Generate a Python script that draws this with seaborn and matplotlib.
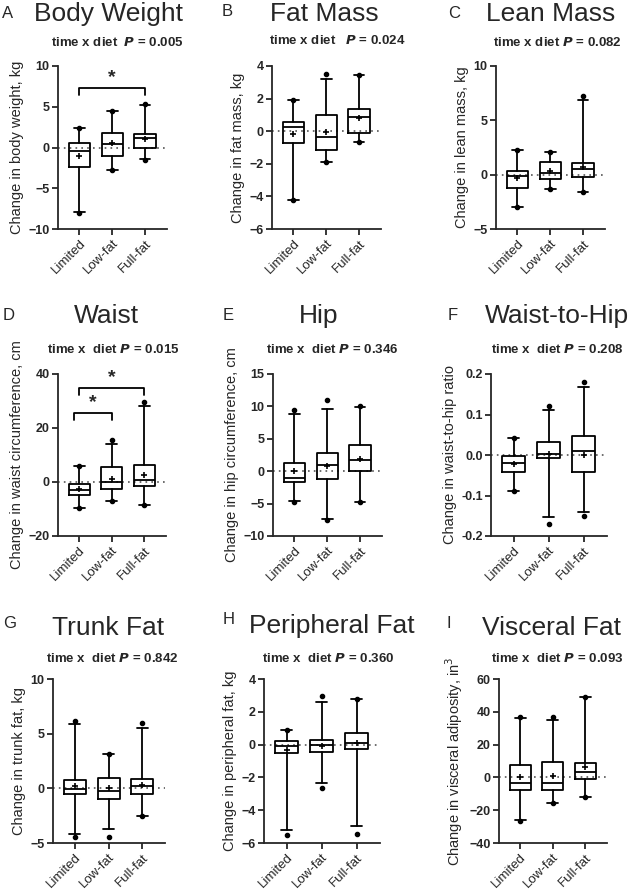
import matplotlib
matplotlib.use("Agg")
import matplotlib.pyplot as plt
import seaborn as sns

groups = ["Limited", "Low-fat", "Full-fat"]

# each row: [whisker low, Q1, median, Q3, whisker high, mean] for Limited, Low-fat, Full-fat
body_weight = [[-7.9, -2.45, -0.4, 0.6, 2.45, -1.0],
               [-2.7, -1.0, 0.37, 1.8, 4.45, 0.5],
               [-1.47, 0.0, 1.18, 1.63, 5.27, 1.1]]
fat_mass = [[-4.22, -0.75, 0.27, 0.57, 1.9, -0.2],
            [-1.88, -1.18, -0.37, 0.98, 3.18, -0.06],
            [-0.65, -0.14, 0.88, 1.37, 3.45, 0.78]]
lean_mass = [[-2.97, -1.22, -0.09, 0.34, 2.23, -0.28],
             [-1.32, -0.37, 0.15, 1.19, 2.11, 0.34],
             [-1.59, -0.21, 0.52, 1.07, 6.83, 0.7]]
waist = [[-9.5, -4.9, -2.8, -0.74, 5.8, -2.5],
         [-7.1, -2.5, 0.0, 5.5, 14.2, 1.2],
         [-8.4, -1.5, 0.7, 6.2, 28.0, 2.7]]
hip = [[-4.6, -1.6, -1.0, 1.3, 8.8, 0.0],
       [-7.3, -1.27, 0.9, 2.84, 9.6, 0.76],
       [-4.77, 0.0, 1.67, 4.1, 9.9, 1.93]]
waist_hip = [[-0.09, -0.043, -0.019, -0.002, 0.041, -0.023],
             [-0.153, -0.008, 0.002, 0.033, 0.11, 0.002],
             [-0.141, -0.043, 0.011, 0.048, 0.169, 0.0]]
trunk_fat = [[-4.15, -0.52, -0.06, 0.76, 5.85, 0.21],
             [-3.7, -1.0, -0.21, 0.98, 3.1, 0.03],
             [-2.53, -0.52, 0.18, 0.82, 5.52, 0.33]]
peripheral_fat = [[-5.19, -0.49, -0.08, 0.22, 0.9, -0.35],
                  [-2.33, -0.45, -0.02, 0.29, 2.6, -0.08],
                  [-4.99, -0.27, 0.08, 0.7, 2.78, 0.08]]
visceral_fat = [[-26.0, -7.5, -3.5, 7.3, 36.5, 0.0],
                [-15.5, -7.8, -3.3, 9.4, 34.9, 1.0],
                [-12.0, -1.2, 3.3, 8.6, 48.8, 6.3]]

# points outside the whiskers
body_weight_out = [[2.45, -8.0], [4.45, -2.8], [5.3, -1.5]]
fat_mass_out = [[1.9, -4.25], [3.53, -1.9], [3.47, -0.68]]
lean_mass_out = [[2.25, -3.0], [2.13, -1.35], [7.28, -1.6]]
waist_out = [[5.8, -9.6], [15.4, -7.2], [29.7, -8.5]]
hip_out = [[9.5, -4.7], [11.0, -7.5], [10.0, -4.8]]
waist_hip_out = [[0.041, -0.09], [0.12, -0.17], [0.181, -0.151]]
trunk_fat_out = [[6.16, -4.42], [3.12, -4.48], [6.0, -2.55]]
peripheral_fat_out = [[0.88, -5.52], [2.95, -2.66], [2.8, -5.44]]
visceral_fat_out = [[37.0, -26.3], [37.1, -15.6], [49.0, -12.0]]

titles = ["Body Weight", "Fat Mass", "Lean Mass", "Waist", "Hip", "Waist-to-Hip",
          "Trunk Fat", "Peripheral Fat", "Visceral Fat"]
letters = list("ABCDEFGHI")
p_values = ["0.005", "0.024", "0.082", "0.015", "0.346", "0.208", "0.842", "0.360", "0.093"]
sub_prefix = ["time x diet  ", "time x diet   ", "time x diet ", "time x  diet ", "time x  diet ",
              "time x  diet ", "time x  diet ", "time x  diet ", "time x  diet "]
ylabels = ["Change in body weight, kg", "Change in fat mass, kg", "Change in lean mass, kg",
           "Change in waist circumference, cm", "Change in hip circumference, cm",
           "Change in waist-to-hip ratio", "Change in trunk fat, kg",
           "Change in peripheral fat, kg", "Change in visceral adiposity, in$^3$"]
ylims = [(-10, 10), (-6, 4), (-5, 10), (-20, 40), (-10, 15), (-0.2, 0.2),
         (-5, 10), (-6, 4), (-40, 60)]
yticks = [[-10, -5, 0, 5, 10], [-6, -4, -2, 0, 2, 4], [-5, 0, 5, 10], [-20, 0, 20, 40],
          [-10, -5, 0, 5, 10, 15], [-0.2, -0.1, 0.0, 0.1, 0.2], [-5, 0, 5, 10],
          [-6, -4, -2, 0, 2, 4], [-40, -20, 0, 20, 40, 60]]

# significance brackets: (panel, start group, end group, height)
brackets = [(0, 0, 2, 7.3), (3, -0.15, 1, 25.5), (3, 0, 2, 34.7)]

stats_all = [body_weight, fat_mass, lean_mass, waist, hip, waist_hip,
             trunk_fat, peripheral_fat, visceral_fat]
fliers_all = [body_weight_out, fat_mass_out, lean_mass_out, waist_out, hip_out,
              waist_hip_out, trunk_fat_out, peripheral_fat_out, visceral_fat_out]

sns.set_style("ticks")
plt.rcParams['font.family'] = ['Liberation Sans', 'DejaVu Sans']

W, H = 630, 892
fig = plt.figure(figsize=(6.3, 8.92), dpi=100)

# axes boxes in pixels: left, right, top, bottom
boxes = [(58, 167, 66, 229), (272, 381, 66, 229), (496, 605, 66, 229),
         (58, 166, 374, 536), (273, 382, 374, 536), (491, 607, 374, 536),
         (53, 165, 679, 843), (264, 380, 679, 843), (499, 607, 679, 843)]
title_pos = [(109, 14), (324, 14), (551, 14), (106, 316), (319, 316), (557, 316),
             (108, 628), (332, 626), (552, 628)]
letter_pos = [(2, 13), (222, 11), (448, 13), (3, 315), (223, 315), (448, 315),
              (3, 624), (223, 620), (447, 624)]
sub_pos = [(117, 42), (337, 41), (557, 42), (113, 349), (332, 349), (557, 349),
           (112, 658), (328, 659), (557, 658)]

for i in range(9):
    l, r, t, b = boxes[i]
    ax = fig.add_axes([l / W, 1 - b / H, (r - l) / W, (b - t) / H])
    stats = []
    for g in range(3):
        lo, q1, med, q3, hi, mean = stats_all[i][g]
        stats.append(dict(whislo=lo, q1=q1, med=med, q3=q3, whishi=hi, mean=mean,
                          fliers=fliers_all[i][g], label=groups[g]))
    ax.axhline(0, color="#555555", linestyle=(0, (1, 2.5)), linewidth=1.2, zorder=0)
    ax.bxp(stats, positions=[0, 1, 2], widths=0.65, capwidths=0.33, showmeans=True,
           boxprops=dict(color="black", linewidth=1.3),
           whiskerprops=dict(color="black", linewidth=1.3),
           capprops=dict(color="black", linewidth=1.3),
           medianprops=dict(color="black", linewidth=1.3),
           meanprops=dict(marker="+", markeredgecolor="black", markersize=5, markeredgewidth=1.2),
           flierprops=dict(marker="o", markerfacecolor="black", markeredgecolor="black", markersize=3))
    ax.set_xlim(-0.65, 2.67)
    ax.set_ylim(*ylims[i])
    ax.set_yticks(yticks[i])
    if i == 5:
        ax.set_yticklabels([f"{v:.1f}" for v in yticks[i]])
    ax.set_xticks([0, 1, 2])
    ax.set_xticklabels(groups, rotation=45, ha="right", rotation_mode="anchor", fontsize=9.5)
    for lab in ax.get_yticklabels():
        lab.set_fontweight("bold")
        lab.set_fontsize(9)
    ax.set_ylabel(ylabels[i], fontsize=10.5, labelpad=3)
    ax.tick_params(width=1.3, length=4, pad=2)
    for s in ["left", "bottom"]:
        ax.spines[s].set_linewidth(1.3)
    sns.despine(ax=ax)
    for (p, x0, x1, y) in brackets:
        if p == i:
            tick = (ylims[i][1] - ylims[i][0]) * 0.04
            ax.plot([x0, x0, x1, x1], [y - tick, y, y, y - tick], color="black", linewidth=1.3,
                    clip_on=False)
            ax.text((x0 + x1) / 2, y + tick * 0.3, "*", ha="center", va="bottom",
                    fontsize=14, fontweight="bold")
    sx, sy = sub_pos[i]
    fig.text(sx / W, 1 - sy / H, sub_prefix[i] + f"$\\bfit{{P}}$ = {p_values[i]}",
             ha="center", va="center", fontsize=9.5, fontweight="bold")
    tx, ty = title_pos[i]
    fig.text(tx / W, 1 - ty / H, titles[i], ha="center", va="center", fontsize=19)
    lx, ly = letter_pos[i]
    fig.text(lx / W, 1 - ly / H, letters[i], ha="left", va="center", fontsize=12)

fig.savefig("out.png", dpi=100)
